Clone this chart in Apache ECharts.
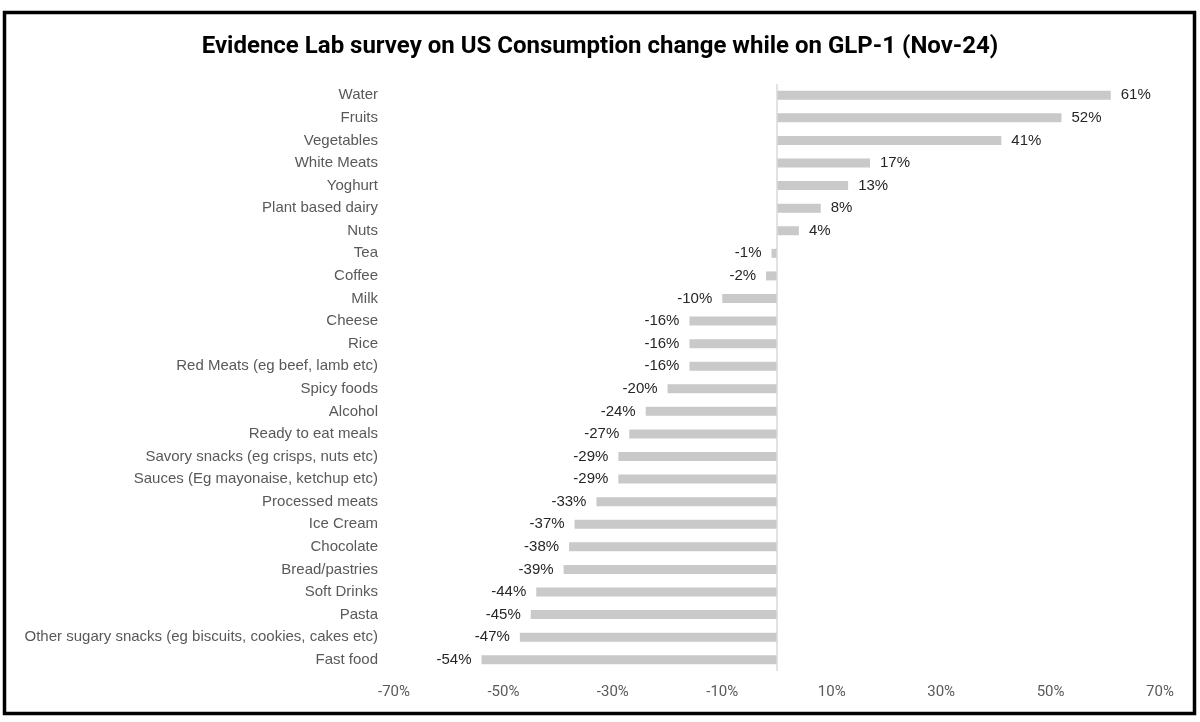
<!DOCTYPE html>
<html>
<head>
<meta charset="utf-8">
<script src="https://cdn.jsdelivr.net/npm/echarts@6/dist/echarts.min.js"></script>
<style>
html,body{margin:0;padding:0;background:#fff;}
#chart{width:1200px;height:722px;}
</style>
</head>
<body>
<div id="chart"></div>
<script>
const titleText = 'Evidence Lab survey on US Consumption change while on GLP-1 (Nov-24)';
const categories = [
  'Water','Fruits','Vegetables','White Meats','Yoghurt','Plant based dairy','Nuts','Tea','Coffee','Milk',
  'Cheese','Rice','Red Meats (eg beef, lamb etc)','Spicy foods','Alcohol','Ready to eat meals',
  'Savory snacks (eg crisps, nuts etc)','Sauces (Eg mayonaise, ketchup etc)','Processed meats','Ice Cream',
  'Chocolate','Bread/pastries','Soft Drinks','Pasta','Other sugary snacks (eg biscuits, cookies, cakes etc)','Fast food'
];
const values = [61,52,41,17,13,8,4,-1,-2,-10,-16,-16,-16,-20,-24,-27,-29,-29,-33,-37,-38,-39,-44,-45,-47,-54];
const axisMin = -70, axisMax = 70, axisStep = 20;

const chart = echarts.init(document.getElementById('chart'));
const seriesData = values.map(v => ({
  value: v,
  label: { position: v >= 0 ? 'right' : 'left' }
}));

chart.setOption({
  animation: false,
  backgroundColor: '#fff',
  title: {
    text: titleText,
    left: 'center',
    top: 30,
    textStyle: { fontFamily: 'Roboto, Liberation Sans, sans-serif', fontWeight: 'bold', fontSize: 24, color: '#000' }
  },
  graphic: [{
    type: 'rect',
    shape: { x: 4.5, y: 12.5, width: 1190, height: 701 },
    style: { fill: 'none', stroke: '#000', lineWidth: 3.5 },
    silent: true
  }],
  grid: { left: 394, right: 40, top: 84, bottom: 51 },
  xAxis: {
    type: 'value',
    min: axisMin, max: axisMax, interval: axisStep,
    axisLine: { show: false },
    axisTick: { show: false },
    splitLine: { show: false },
    axisLabel: {
      formatter: v => v + '%',
      color: '#595959',
      fontFamily: 'Roboto, Liberation Sans, sans-serif',
      fontSize: 15,
      margin: 14
    }
  },
  yAxis: {
    type: 'category',
    data: categories,
    inverse: true,
    axisLine: { show: false, onZero: false },
    axisTick: { show: false },
    axisLabel: {
      color: '#595959',
      fontFamily: 'Liberation Sans, sans-serif',
      fontSize: 15,
      margin: 16
    }
  },
  series: [{
    type: 'bar',
    data: seriesData,
    barWidth: 9,
    itemStyle: { color: '#c9c9c9' },
    label: {
      show: true,
      formatter: p => p.value + '%',
      color: '#262626',
      fontFamily: 'Liberation Sans, sans-serif',
      fontSize: 15,
      distance: 10
    },
    markLine: {
      silent: true,
      symbol: 'none',
      label: { show: false },
      lineStyle: { color: '#d9d9d9', type: 'solid', width: 1.5 },
      data: [{ xAxis: 0 }]
    }
  }]
});
</script>
</body>
</html>
